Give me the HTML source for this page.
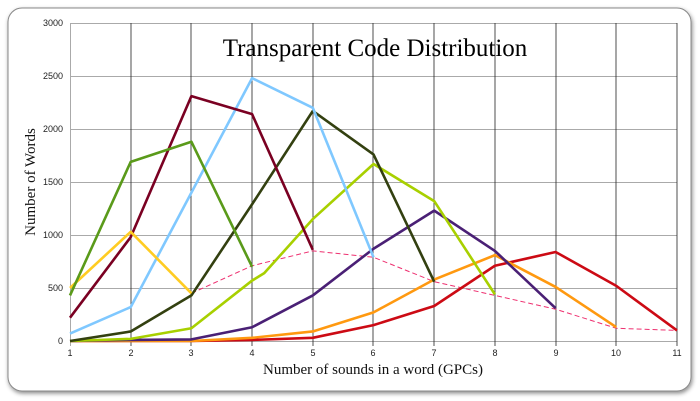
<!DOCTYPE html>
<html><head><style>
body{margin:0;background:#fff;}
svg{display:block;}
</style></head><body>
<svg width="700" height="401" xmlns="http://www.w3.org/2000/svg">
<defs><filter id="sh" x="-5%" y="-5%" width="110%" height="110%"><feDropShadow dx="1" dy="2" stdDeviation="2" flood-color="#000" flood-opacity="0.45"/></filter></defs>
<rect x="8" y="8" width="683" height="383" rx="14" fill="#fff" stroke="#888" stroke-width="1" filter="url(#sh)"/>
<g stroke="#aaa" stroke-width="1">
<line x1="70" y1="23.5" x2="677" y2="23.5"/>
<line x1="70" y1="76.5" x2="677" y2="76.5"/>
<line x1="70" y1="129.5" x2="677" y2="129.5"/>
<line x1="70" y1="182.5" x2="677" y2="182.5"/>
<line x1="70" y1="235.5" x2="677" y2="235.5"/>
<line x1="70" y1="288.5" x2="677" y2="288.5"/>
<line x1="70" y1="341.5" x2="677" y2="341.5"/>
<line x1="70.5" y1="23" x2="70.5" y2="346"/>
</g>
<g stroke="#222" stroke-width="0.8">
<line x1="131" y1="23" x2="131" y2="346"/><line x1="191" y1="23" x2="191" y2="346"/>
<line x1="252" y1="23" x2="252" y2="346"/><line x1="313" y1="23" x2="313" y2="346"/>
<line x1="373" y1="23" x2="373" y2="346"/><line x1="434" y1="23" x2="434" y2="346"/>
<line x1="495" y1="23" x2="495" y2="346"/><line x1="556" y1="23" x2="556" y2="346"/>
<line x1="616" y1="23" x2="616" y2="346"/><line x1="677" y1="23" x2="677" y2="346"/>
</g>
<g font-family="Liberation Sans, sans-serif" font-size="9" fill="#222" text-anchor="end">
<text x="63" y="26">3000</text><text x="63" y="79">2500</text><text x="63" y="132">2000</text>
<text x="63" y="185">1500</text><text x="63" y="238">1000</text><text x="63" y="291">500</text><text x="63" y="344">0</text>
</g>
<g font-family="Liberation Sans, sans-serif" font-size="9" fill="#222" text-anchor="middle">
<text x="70" y="356">1</text><text x="131" y="356">2</text><text x="191" y="356">3</text><text x="252" y="356">4</text>
<text x="313" y="356">5</text><text x="373" y="356">6</text><text x="434" y="356">7</text><text x="495" y="356">8</text>
<text x="556" y="356">9</text><text x="616" y="356">10</text><text x="677" y="356">11</text>
</g>
<text x="375" y="56" font-family="Liberation Serif, serif" font-size="25" text-anchor="middle" fill="#000">Transparent Code Distribution</text>
<text x="373" y="374" font-family="Liberation Serif, serif" font-size="15" text-anchor="middle" fill="#111">Number of sounds in a word (GPCs)</text>
<text transform="translate(35,182) rotate(-90)" font-family="Liberation Serif, serif" font-size="15" text-anchor="middle" fill="#111">Number of Words</text>
<g transform="translate(70,341) scale(60.7,-0.106)" fill="none" stroke-width="2.6" stroke-linejoin="round">
<polyline vector-effect="non-scaling-stroke" stroke="#ee3070" stroke-width="1" stroke-dasharray="5,3" points="2,450 3,710 4,850 5,790 6,560 7,430 8,300 9,120 10,100"/>
<polyline vector-effect="non-scaling-stroke" stroke="#cc0a14" points="0,0 1,0 2,0 3,10 4,30 5,150 6,330 7,710 8,840 9,520 10,100"/>
<polyline vector-effect="non-scaling-stroke" stroke="#ff9910" points="0,0 1,0 2,0 3,30 4,90 5,270 6,580 7,810 8,510 9,130"/>
<polyline vector-effect="non-scaling-stroke" stroke="#4a2075" points="0,0 1,10 2,15 3,130 4,430 5,870 6,1230 7,850 8,310"/>
<polyline vector-effect="non-scaling-stroke" stroke="#a8d000" points="0,0 1,20 2,120 3,570 3.2,640 4,1150 5,1670 6,1320 7,440"/>
<polyline vector-effect="non-scaling-stroke" stroke="#334010" points="0,0 1,90 2,430 3,1290 4,2170 5,1760 6,560"/>
<polyline vector-effect="non-scaling-stroke" stroke="#7fc8ff" points="0,70 1,320 2,1400 3,2480 4,2200 5,790"/>
<polyline vector-effect="non-scaling-stroke" stroke="#7a0022" points="0,220 1,980 2,2310 3,2140 4,860"/>
<polyline vector-effect="non-scaling-stroke" stroke="#ffcc22" points="0,500 1,1030 2,450"/>
<polyline vector-effect="non-scaling-stroke" stroke="#5a9a1a" points="0,430 1,1690 2,1880 3,700"/>
</g>
</svg>
</body></html>
